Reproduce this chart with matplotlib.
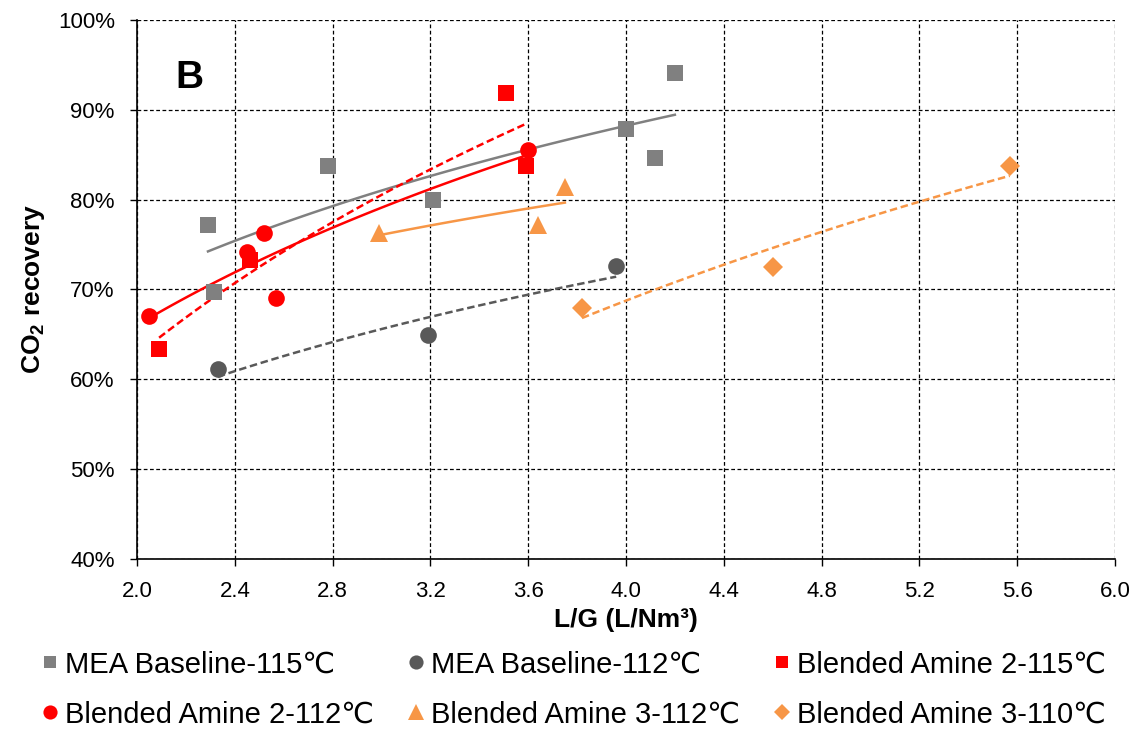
import numpy as np
import matplotlib
matplotlib.use('Agg')
import matplotlib.pyplot as plt

plt.rcParams['font.family'] = ['Liberation Sans', 'DejaVu Sans']
plt.rcParams['mathtext.fontset'] = 'custom'
plt.rcParams['mathtext.rm'] = 'Liberation Sans'
plt.rcParams['mathtext.bf'] = 'Liberation Sans:bold'

# ---- data ----
mea115_x = [2.29, 2.315, 2.78, 3.21, 4.00, 4.12, 4.20]
mea115_y = [77.2, 69.7, 83.7, 80.0, 87.9, 84.6, 94.1]

mea112_x = [2.33, 3.19, 3.96]
mea112_y = [61.1, 64.9, 72.6]

ba2_115_x = [2.09, 2.46, 3.51, 3.59]
ba2_115_y = [63.4, 73.3, 91.9, 83.7]

ba2_112_x = [2.05, 2.45, 2.52, 2.57, 3.60]
ba2_112_y = [67.0, 74.2, 76.3, 69.0, 85.5]

ba3_112_x = [2.99, 3.64, 3.75]
ba3_112_y = [76.3, 77.2, 81.4]

ba3_110_x = [3.82, 4.60, 5.57]
ba3_110_y = [67.9, 72.5, 83.7]

x_ticks = [2.0, 2.4, 2.8, 3.2, 3.6, 4.0, 4.4, 4.8, 5.2, 5.6, 6.0]
y_ticks = [40, 50, 60, 70, 80, 90, 100]

# label, x, y, color, marker, markersize, trend linestyle
series = [
    ('MEA Baseline-115\u2103', mea115_x, mea115_y, '#808080', 's', 11, '-'),
    ('MEA Baseline-112\u2103', mea112_x, mea112_y, '#595959', 'o', 12, (0, (3, 1.5))),
    ('Blended Amine 2-115\u2103', ba2_115_x, ba2_115_y, '#FF0000', 's', 11, (0, (3, 1.5))),
    ('Blended Amine 2-112\u2103', ba2_112_x, ba2_112_y, '#FF0000', 'o', 12, '-'),
    ('Blended Amine 3-112\u2103', ba3_112_x, ba3_112_y, '#F79646', '^', 13, '-'),
    ('Blended Amine 3-110\u2103', ba3_110_x, ba3_110_y, '#F79646', 'D', 10, (0, (3, 1.5))),
]

fig = plt.figure(figsize=(11.33, 7.29), dpi=100)
ax = fig.add_axes([0.121, 0.2332, 0.863, 0.7394])

handles = []
for label, xs, ys, color, marker, ms, ls in series:
    xs = np.asarray(xs)
    ys = np.asarray(ys)
    # logarithmic trendline over the data range
    b, a = np.polyfit(np.log(xs), ys, 1)
    xt = np.linspace(xs.min(), xs.max(), 50)
    ax.plot(xt, a + b * np.log(xt), color=color, lw=1.8, ls=ls, zorder=2)
    h, = ax.plot(xs, ys, ls='none', marker=marker, ms=ms, color=color,
                 markeredgewidth=0, zorder=3, label=label)
    handles.append(h)

ax.set_xlim(2.0, 6.0)
ax.set_ylim(40, 100)
ax.set_xticks(x_ticks)
ax.set_xticklabels([f'{v:.1f}' for v in x_ticks])
ax.set_yticks(y_ticks)
ax.set_yticklabels([f'{v}%' for v in y_ticks])
ax.tick_params(labelsize=16, length=5, width=1, color='black', pad=11)
ax.grid(True, color='black', ls=(0, (3, 2)), lw=0.9)
ax.set_axisbelow(True)
for s in ('top', 'right'):
    ax.spines[s].set_visible(False)
for s in ('left', 'bottom'):
    ax.spines[s].set_color('black')
    ax.spines[s].set_linewidth(1.2)

ax.set_xlabel('L/G (L/Nm\u00b3)', fontsize=19, fontweight='bold', labelpad=4)
ax.set_ylabel(r'$\mathbf{CO_2}$ recovery', fontsize=19, fontweight='bold', labelpad=8)

ax.text(0.054, 0.892, 'B', transform=ax.transAxes, fontsize=28,
        fontweight='bold', ha='center', va='center')

# legend, filled row-wise across 3 columns
order = [0, 3, 1, 4, 2, 5]
fig.legend([handles[i] for i in order], [series[i][0] for i in order],
           ncol=3, loc='center', bbox_to_anchor=(0.507, 0.054), frameon=False,
           fontsize=21, markerscale=0.85, handlelength=0.5, handletextpad=0.25,
           columnspacing=1.2, labelspacing=0.75, borderpad=0)

fig.savefig('out.png', dpi=100)
